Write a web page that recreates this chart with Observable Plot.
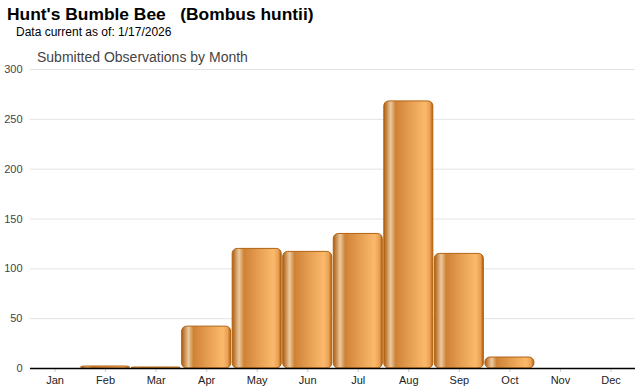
<!DOCTYPE html>
<html><head><meta charset="utf-8">
<script src="https://cdn.jsdelivr.net/npm/d3@7"></script>
<script src="https://cdn.jsdelivr.net/npm/@observablehq/plot@0.6"></script>
<style>
body{margin:0;background:#fff;font-family:"Liberation Sans",Arial,sans-serif;}
#wrap{position:relative;width:640px;height:390px;}
.t{position:absolute;white-space:pre;}
#title{left:7px;top:4px;font-size:17.4px;font-weight:bold;color:#000;}
#sub{left:16px;top:25px;font-size:12px;color:#000;}
#ctitle{left:37px;top:49px;font-size:14px;color:#444;}
#chart{position:absolute;left:0;top:0;}
</style></head><body>
<div id="wrap">
<div id="chart"></div>
<div class="t" id="title">Hunt's Bumble Bee   (Bombus huntii)</div>
<div class="t" id="sub">Data current as of: 1/17/2026</div>
<div class="t" id="ctitle">Submitted Observations by Month</div>
</div>
<script>
const months = ["Jan","Feb","Mar","Apr","May","Jun","Jul","Aug","Sep","Oct","Nov","Dec"];
const counts = [0, 2, 1, 42, 120, 117, 135, 268, 115, 11, 0, 0];
const yTicks = [0, 50, 100, 150, 200, 250, 300];

const data = months.map((m, i) => ({month: m, count: counts[i]}));

const svg = Plot.plot({
  width: 640,
  height: 390,
  marginTop: 69,
  marginBottom: 22,
  marginLeft: 30,
  marginRight: 5,
  style: {fontFamily: "Liberation Sans, Arial, sans-serif", fontSize: "11px", color: "#333", background: "#fff"},
  x: {domain: months, paddingInner: 0.03, paddingOuter: 0, round: false, label: null},
  y: {domain: [0, 300], label: null},
  marks: [
    Plot.gridY(yTicks, {stroke: "#e3e3e3", strokeOpacity: 1}),
    Plot.axisY(yTicks, {tickSize: 0, tickPadding: 8, fill: "#444", label: null}),
    Plot.axisX({tickSize: 4, tickPadding: 4, stroke: "#ccc", fill: "#222", label: null}),
    Plot.barY(data.filter(d => d.count > 0), {x: "month", y: "count", fill: "url(#barGrad)", stroke: "#b0620f", strokeWidth: 1, rx: 5}),
    Plot.ruleY([0], {stroke: "#000", strokeWidth: 1.3})
  ]
});

const defs = d3.select(svg).insert("defs", ":first-child");
const g = defs.append("linearGradient").attr("id", "barGrad").attr("x1", "0").attr("x2", "1").attr("y1", "0").attr("y2", "0");
[[0, "#ad5d0c"], [0.06, "#c98a4c"], [0.14, "#ebcaa0"], [0.24, "#cf8236"], [0.5, "#e39b4f"], [0.84, "#fbb96c"], [0.94, "#eaa154"], [1, "#ad5d0c"]]
  .forEach(([o, c]) => g.append("stop").attr("offset", o).attr("stop-color", c));

document.getElementById("chart").appendChild(svg);
</script>
</body></html>
